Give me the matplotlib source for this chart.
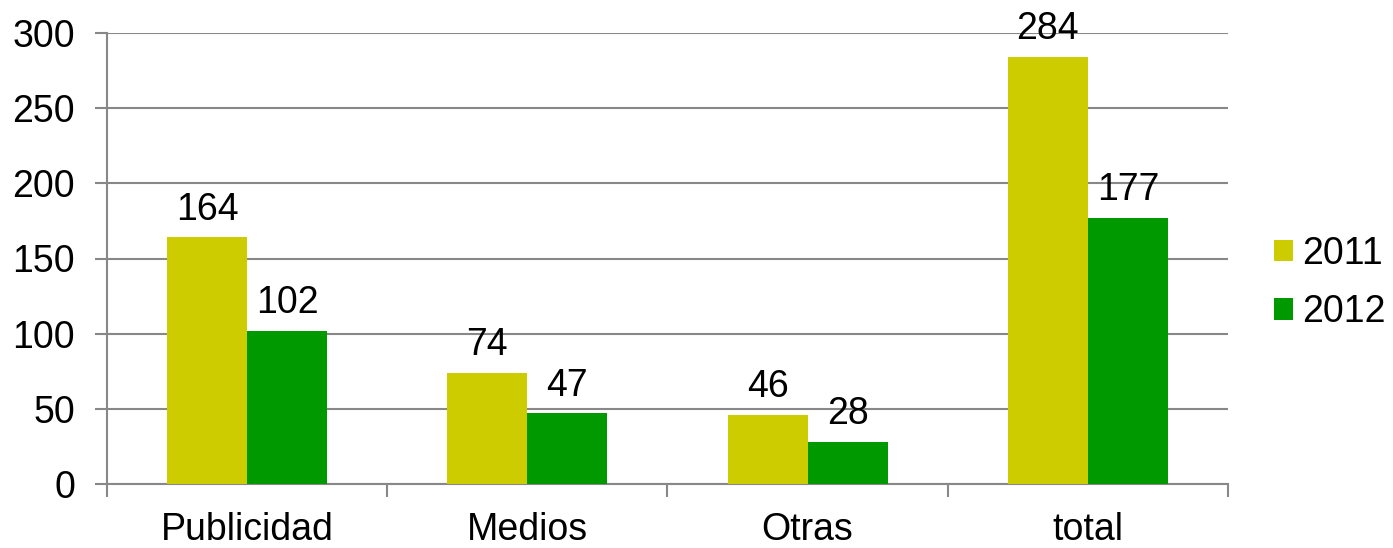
import matplotlib
matplotlib.use("Agg")
import matplotlib.pyplot as plt
import numpy as np

categories = ["Publicidad", "Medios", "Otras", "total"]
series_names = ["2011", "2012"]
values_2011 = [164, 74, 46, 284]
values_2012 = [102, 47, 28, 177]
y_ticks = [0, 50, 100, 150, 200, 250, 300]

colors = ["#CCCC00", "#009900"]
plt.rcParams['font.family'] = ['Liberation Sans', 'DejaVu Sans']
FS = 27

fig = plt.figure(figsize=(13.93, 5.48), dpi=100)
ax = fig.add_axes([107/1393, 1-484/548, (1228-107)/1393, (484-33)/548])

x = np.arange(len(categories))
w = 0.2855
for k, (vals, name) in enumerate(zip([values_2011, values_2012], series_names)):
    pos = x + (k - 0.5) * w
    ax.bar(pos, vals, width=w, color=colors[k], label=name, zorder=3)
    for xp, v in zip(pos, vals):
        ax.annotate(str(v), (xp, v), xytext=(0, 7), textcoords="offset points",
                    ha="center", va="bottom", fontsize=FS, color="black")

ax.set_xlim(-0.5, len(categories) - 0.5)
ax.set_ylim(0, 300)
ax.set_yticks(y_ticks)
ax.set_yticklabels([str(t) for t in y_ticks], fontsize=FS)
ax.yaxis.grid(True, color="#888888", linewidth=1.5, zorder=0)
ax.set_axisbelow(True)

ax.set_xticks(np.arange(len(categories) + 1) - 0.5)
ax.set_xticklabels([])
ax.set_xticks(x, minor=True)
ax.set_xticklabels(categories, minor=True, fontsize=FS)
ax.tick_params(axis="x", which="major", length=9, width=1.5, color="#888888", direction="out")
ax.tick_params(axis="x", which="minor", length=0, pad=20)
ax.tick_params(axis="y", length=9, width=1.5, color="#888888", direction="out", pad=14)

for s in ["top", "right"]:
    ax.spines[s].set_visible(False)
for s in ["left", "bottom"]:
    ax.spines[s].set_color("#888888")
    ax.spines[s].set_linewidth(1.5)

leg = fig.legend(loc="center left", bbox_to_anchor=(1274/1393, 1-283/548), frameon=False,
                 fontsize=FS, handlelength=0.5, handleheight=0.5, handletextpad=0.25,
                 labelspacing=0.6, borderpad=0, borderaxespad=0)

fig.savefig("out.png", dpi=100)
